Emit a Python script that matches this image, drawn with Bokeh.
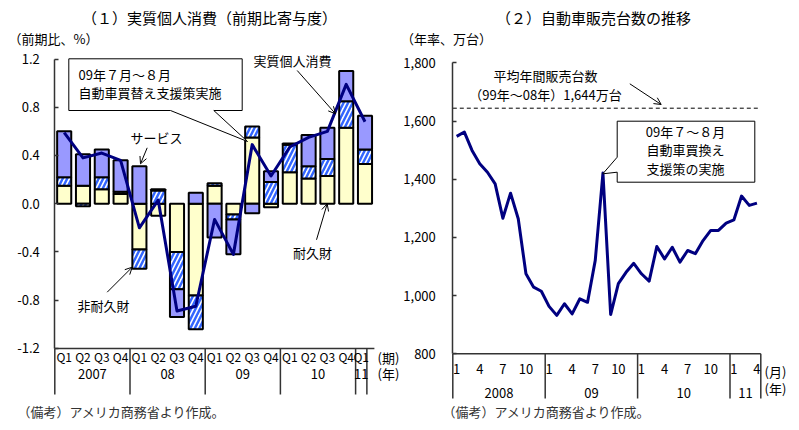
from bokeh.plotting import figure
from bokeh.layouts import row
from bokeh.models import Range1d, FixedTicker, NumeralTickFormatter, Arrow, OpenHead
from bokeh.core.properties import value
from bokeh.embed import file_html
from bokeh.resources import INLINE

FONT = "Noto Sans CJK JP"

# ---------------- data: (1) real personal consumption, contributions (q/q, %)
quarters = ["Q1", "Q2", "Q3", "Q4", "Q1", "Q2", "Q3", "Q4", "Q1", "Q2", "Q3", "Q4",
            "Q1", "Q2", "Q3", "Q4", "Q1"]
year_labels = ["2007", "08", "09", "10", "11"]
year_sizes = [4, 4, 4, 4, 1]
durable = [0.15, 0.15, 0.12, 0.08, -0.38, -0.10, -0.40, -0.76, 0.15, -0.09, 0.55, -0.03,
           0.26, 0.21, 0.23, 0.63, 0.33]
nondurable = [0.07, -0.02, 0.10, 0.02, -0.16, 0.11, -0.31, -0.28, 0.02, -0.04, 0.09, 0.18,
              0.23, 0.10, 0.14, 0.22, 0.12]
services = [0.38, 0.26, 0.23, 0.26, 0.31, 0.01, -0.23, 0.09, -0.28, -0.29, -0.08, 0.09,
            0.01, 0.26, 0.26, 0.25, 0.28]
total = [0.59, 0.38, 0.42, 0.36, -0.20, 0.03, -0.89, -0.85, -0.13, -0.42, 0.49, 0.23,
         0.47, 0.55, 0.60, 0.99, 0.68]
y1_ticks = [-1.2, -0.8, -0.4, 0.0, 0.4, 0.8, 1.2]

# ---------------- data: (2) auto sales (annual rate, 10k units)
sales_years = ["2008", "09", "10", "11"]
sales_year_sizes = [12, 12, 12, 4]
sales = [1547, 1562, 1499, 1453, 1424, 1384, 1266, 1352, 1264, 1075, 1029, 1015,
         963, 932, 972, 937, 989, 977, 1121, 1421, 935, 1041, 1080, 1111,
         1075, 1050, 1169, 1126, 1166, 1115, 1155, 1144, 1189, 1224, 1224, 1249,
         1260, 1342, 1310, 1318]
avg_sales = 1644
y2_ticks = [800, 1000, 1200, 1400, 1600, 1800]

H = 430
txt = dict(text_font=value(FONT), text_font_size="13px", text_color="black",
           text_baseline="middle")


def style_axis(ax, ticks, fmt, standoff):
    ax.ticker = FixedTicker(ticks=ticks)
    ax.bounds = (ticks[0], ticks[-1])
    ax.fixed_location = 0
    ax.formatter = NumeralTickFormatter(format=fmt)
    ax.major_tick_in, ax.major_tick_out = 4, 0
    ax.minor_tick_line_color = None
    ax.major_label_standoff = standoff
    ax.major_label_text_font = FONT
    ax.major_label_text_font_size = "13px"
    ax.major_label_text_color = "black"
    ax.axis_line_color = "#333333"
    ax.axis_line_width = 1.5
    ax.major_tick_line_color = "#333333"
    ax.major_tick_line_width = 1.5


# ================= left chart =================
W1 = 400
X0_1, PX1 = 54.3, 18.8       # page x of category 0, px per quarter
Y12, PY1 = 58.5, 120.6       # page y of 1.2, px per unit


def lx(px):
    return (px - X0_1) / PX1


def ly(py):
    return 1.2 - (py - Y12) / PY1


p1 = figure(width=W1, height=H, output_backend="svg", toolbar_location=None,
            x_range=Range1d(lx(0), lx(W1)), y_range=Range1d(ly(H), ly(0)),
            x_axis_location=None, min_border_left=0, min_border_right=0,
            min_border_top=0, min_border_bottom=0)
p1.outline_line_color = None
p1.grid.visible = False
style_axis(p1.yaxis[0], y1_ticks, "0.0", 15)

n1 = len(quarters)
xs1 = [i + 0.5 for i in range(n1)]


def stack(series_list):
    n = len(series_list[0])
    pos, neg = [0.0] * n, [0.0] * n
    out = []
    for s in series_list:
        b, t = [], []
        for i, v in enumerate(s):
            if v >= 0:
                b.append(pos[i]); t.append(pos[i] + v); pos[i] += v
            else:
                t.append(neg[i]); b.append(neg[i] + v); neg[i] += v
        out.append((b, t))
    return out


(bd, td), (bn, tn), (bs, ts) = stack([durable, nondurable, services])
p1.vbar(x=xs1, bottom=bd, top=td, width=0.75, fill_color="#FFFFCC",
        line_color="black", line_width=2)
p1.vbar(x=xs1, bottom=bn, top=tn, width=0.75, fill_color="white",
        hatch_pattern="right_diagonal_line", hatch_color="#3366FF",
        hatch_weight=2.5, hatch_scale=9, line_color="black", line_width=2)
p1.vbar(x=xs1, bottom=bs, top=ts, width=0.75, fill_color="#9999FF",
        line_color="black", line_width=2)
p1.line(xs1, total, line_color="#000080", line_width=3, line_join="round")

# category axis (bottom)
p1.segment(x0=[0], y0=[y1_ticks[0]], x1=[n1], y1=[y1_ticks[0]],
           line_color="#333333", line_width=1.5)
bounds1 = [0]
for s in year_sizes:
    bounds1.append(bounds1[-1] + s)
bounds1[-1] = bounds1[-1] - 0.4  # last (single-quarter) cell drawn narrower, as in source
p1.segment(x0=bounds1, y0=[y1_ticks[0]] * len(bounds1), x1=bounds1,
           y1=[ly(394)] * len(bounds1), line_color="#333333", line_width=1.5)
qx = []
for g, s in enumerate(year_sizes):
    w = (bounds1[g + 1] - bounds1[g]) / s
    qx += [bounds1[g] + (k + 0.5) * w for k in range(s)]
p1.text(x=qx, y=[ly(356)] * n1, text=quarters, text_align="center",
        text_font=value(FONT), text_font_size="12px", text_color="black",
        text_baseline="middle")
p1.text(x=[(bounds1[g] + bounds1[g + 1]) / 2 for g in range(len(year_labels))],
        y=[ly(373)] * len(year_labels), text=year_labels, text_align="center", **txt)
p1.text(x=[lx(377), lx(377)], y=[ly(357), ly(373)], text=["(期)", "(年)"],
        text_align="left", **txt)

# callout
cx = [68.3, 241.7, 241.7, 213.3, 247, 170, 68.3]
cy = [58.3, 58.3, 110, 110, 141, 110, 110]
p1.patch([lx(v) for v in cx], [ly(v) for v in cy], fill_color="white",
         line_color="black", line_width=1)
p1.text(x=[lx(78), lx(78)], y=[ly(74), ly(92)],
        text=["09年７月～８月", "自動車買替え支援策実施"], text_align="left", **txt)
p1.text(x=[lx(156)], y=[ly(137)], text=["サービス"], text_align="center", **txt)
p1.text(x=[lx(253)], y=[ly(60)], text=["実質個人消費"], text_align="left", **txt)
p1.text(x=[lx(103)], y=[ly(305)], text=["非耐久財"], text_align="center", **txt)
p1.text(x=[lx(312)], y=[ly(252)], text=["耐久財"], text_align="center", **txt)
for (a, b, c, d) in [(146.7, 147.3, 140, 163.3), (296.7, 70, 335, 113.3),
                     (106.7, 291.7, 131.7, 266.7), (316, 239.3, 326.7, 203.3)]:
    p1.add_layout(Arrow(end=OpenHead(size=7, line_width=1), x_start=lx(a), y_start=ly(b),
                        x_end=lx(c), y_end=ly(d), line_width=1))

p1.text(x=[lx(209)], y=[ly(17)], text=["（１）実質個人消費（前期比寄与度）"],
        text_align="center", text_font=value(FONT), text_font_size="15px",
        text_color="black", text_baseline="middle")
p1.text(x=[lx(8)], y=[ly(38)], text=["（前期比、%）"], text_align="left", **txt)
p1.text(x=[lx(17)], y=[ly(411)], text=["（備考）アメリカ商務省より作成。"],
        text_align="left", text_font=value(FONT), text_font_size="13px",
        text_color="#333333", text_baseline="middle")

# ================= right chart =================
W2 = 399
OFF = 400
X0_2, PX2 = 452.3, 7.7         # page x of month 0, px per month
Y18, UPX = 62.3, 1000 / 291.0  # page y of 1800, units per px


def rx(px):
    return (px - X0_2) / PX2


def ry(py):
    return 1800 - (py - Y18) * UPX


p2 = figure(width=W2, height=H, output_backend="svg", toolbar_location=None,
            x_range=Range1d(rx(OFF), rx(OFF + W2)), y_range=Range1d(ry(H), ry(0)),
            x_axis_location=None, min_border_left=0, min_border_right=0,
            min_border_top=0, min_border_bottom=0)
p2.outline_line_color = None
p2.grid.visible = False
style_axis(p2.yaxis[0], y2_ticks, "0,0", 17)

n2 = len(sales)
xs2 = [i + 0.5 for i in range(n2)]
p2.line(x=[0, n2], y=[avg_sales, avg_sales], line_color="black", line_width=1,
        line_dash="4 3")
p2.line(xs2, sales, line_color="#000080", line_width=3, line_join="round")

p2.segment(x0=[0], y0=[y2_ticks[0]], x1=[n2], y1=[y2_ticks[0]],
           line_color="#333333", line_width=1.5)
bounds2 = [0]
for s in sales_year_sizes:
    bounds2.append(bounds2[-1] + s)
p2.segment(x0=bounds2, y0=[y2_ticks[0]] * len(bounds2), x1=bounds2,
           y1=[ry(398)] * len(bounds2), line_color="#333333", line_width=1.5)
mx, mt = [], []
for g, s in enumerate(sales_year_sizes):
    for m in range(s):
        if m % 3 == 0:
            mx.append(bounds2[g] + m + 0.5)
            mt.append(str(m + 1))
p2.text(x=mx, y=[ry(368)] * len(mx), text=mt, text_align="center", **txt)
p2.text(x=[(bounds2[g] + bounds2[g + 1]) / 2 for g in range(len(sales_years))],
        y=[ry(392)] * len(sales_years), text=sales_years, text_align="center", **txt)
p2.text(x=[rx(764), rx(764)], y=[ry(371), ry(388)], text=["(月)", "(年)"],
        text_align="left", **txt)

p2.text(x=[rx(545), rx(545)], y=[ry(75), ry(94)],
        text=["平均年間販売台数", "（99年～08年）1,644万台"], text_align="center", **txt)
p2.add_layout(Arrow(end=OpenHead(size=7, line_width=1), x_start=rx(629.3), y_start=ry(83.3),
                    x_end=rx(660.7), y_end=ry(104), line_width=1))
bx = [616.7, 754.3, 754.3, 616.7, 616.7, 602.3, 616.7]
by = [120.7, 120.7, 181.7, 181.7, 171.7, 173.3, 156.7]
p2.patch([rx(v) for v in bx], [ry(v) for v in by], fill_color="white",
         line_color="black", line_width=1)
p2.text(x=[rx(685)] * 3, y=[ry(131), ry(149), ry(167.5)],
        text=["09年７～８月", "自動車買換え", "支援策の実施"], text_align="center", **txt)

p2.text(x=[rx(593)], y=[ry(17)], text=["（２）自動車販売台数の推移"],
        text_align="center", text_font=value(FONT), text_font_size="15px",
        text_color="black", text_baseline="middle")
p2.text(x=[rx(400.5)], y=[ry(38)], text=["（年率、万台）"], text_align="left", **txt)
p2.text(x=[rx(442)], y=[ry(411)], text=["（備考）アメリカ商務省より作成。"],
        text_align="left", text_font=value(FONT), text_font_size="13px",
        text_color="#333333", text_baseline="middle")

layout = row(p1, p2, spacing=0)
open("out.html", "w").write(file_html(layout, INLINE))
